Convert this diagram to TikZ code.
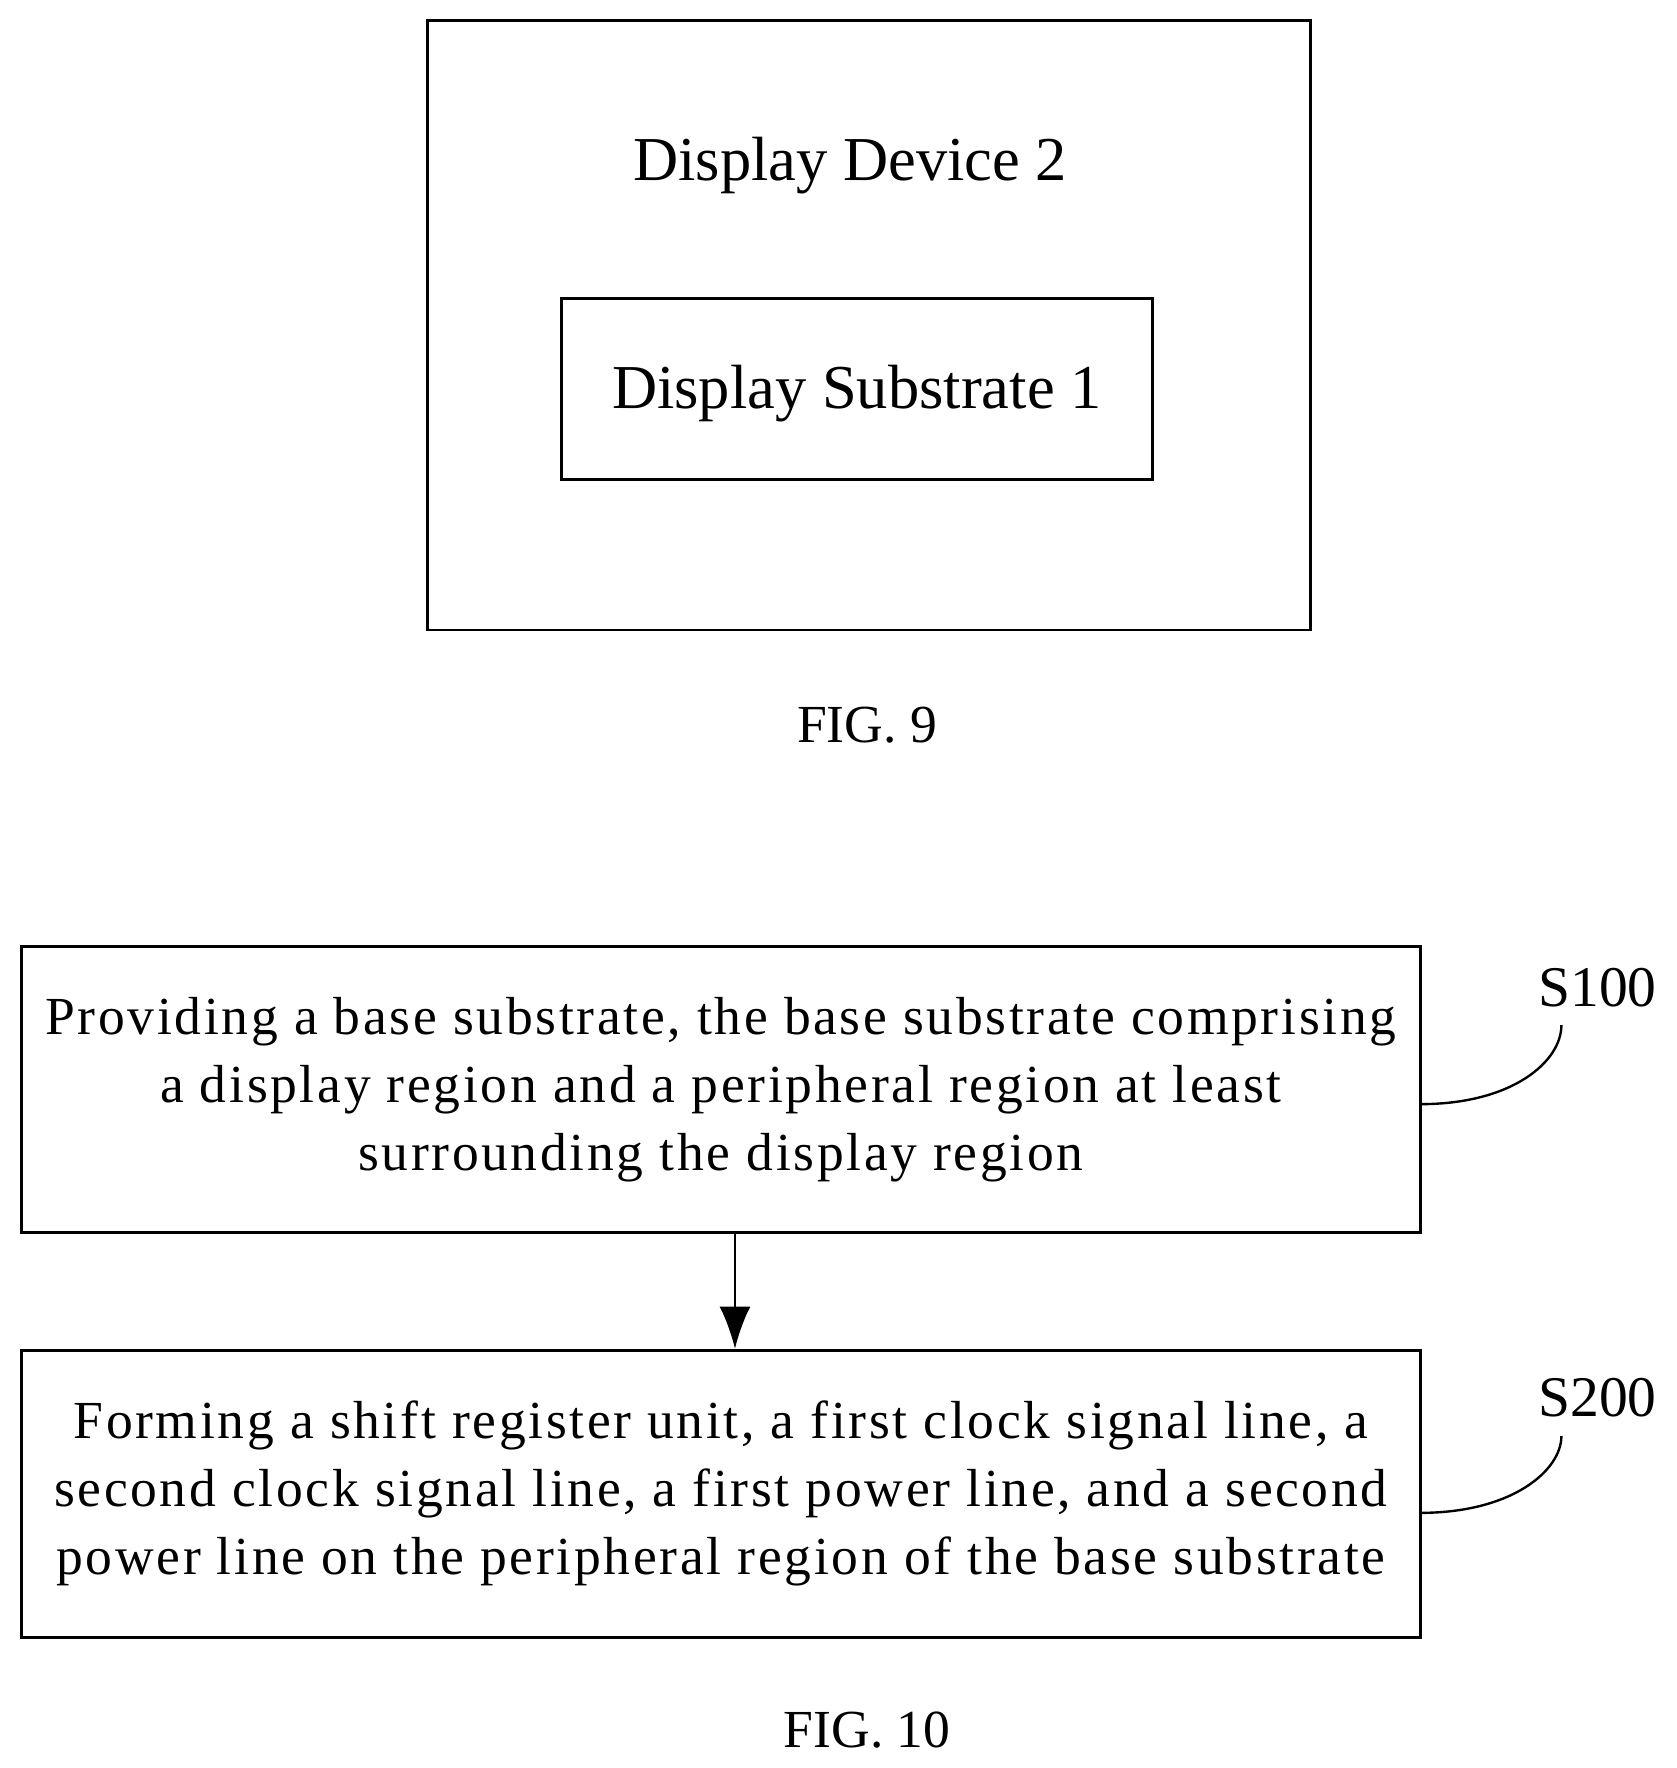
\documentclass[tikz,border=0pt]{standalone}
\usepackage{fontspec}
\setmainfont{Liberation Serif}
\newfontfamily\widefont[LetterSpace=5]{Liberation Serif}
\usetikzlibrary{arrows.meta}
\tikzset{>=latex}
\tikzset{
  box/.style={draw,line width=1.5pt},
  steptext/.style={align=center,font=\widefont\fontsize{27}{34.2}\selectfont},
  lbl/.style={font=\fontsize{29}{30}\selectfont},
  fig/.style={font=\fontsize{27}{28}\selectfont}
}
\begin{document}
\begin{tikzpicture}[x=0.02cm,y=-0.02cm]
  \useasboundingbox (0,0) rectangle (1485,1566);
  % FIG. 9
  \draw[box] (379,18) rectangle (1161,558);
  \draw[box] (497,264) rectangle (1021,425);
  \node[font=\fontsize{31.5}{36}\selectfont] (dev) at (753,147) {Display Device 2};
  \node[font=\fontsize{31.5}{36}\selectfont] (sub) at (759,349) {Display Substrate 1};
  \node[fig] (f9) at (768,642) {FIG. 9};
  % FIG. 10
  \node[box,minimum width=24.78cm,minimum height=5.08cm] (s1) at (638.5,965) {};
  \node[steptext] at (s1.center) {Providing a base substrate, the base substrate comprising\\a display region and a peripheral region at least\\surrounding the display region};
  \node[box,minimum width=24.78cm,minimum height=5.08cm] (s2) at (638.5,1323) {};
  \node[steptext] at (s2.center) {Forming a shift register unit, a first clock signal line, a\\second clock signal line, a first power line, and a second\\power line on the peripheral region of the base substrate};
  \coordinate (a1) at (651,1092);
  \draw[-{Latex[length=0.75cm,width=0.55cm]},line width=1.2pt] (a1) -- (s2.north -| a1);
  \node[lbl] (l1) at (1415,875) {S100};
  \node[lbl] (l2) at (1415,1238) {S200};
  \draw[line width=1.2pt] (1258,978) .. controls (1340,978) and (1383,940) .. (1383,908);
  \draw[line width=1.2pt] (1258,1340) .. controls (1340,1340) and (1383,1302) .. (1383,1272);
  \node[fig] (f10) at (768,1532) {FIG. 10};
\end{tikzpicture}
\end{document}
